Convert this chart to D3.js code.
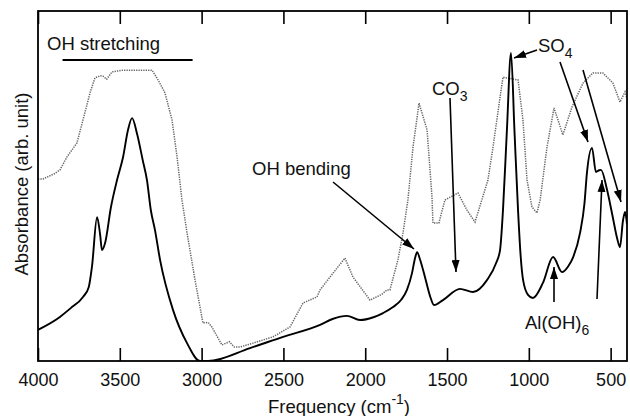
<!DOCTYPE html>
<html>
<head>
    <meta charset="utf-8">
    <style>
        body { margin: 0; background: #fff; }
        svg text { font-family: "Liberation Sans", Arial, sans-serif; fill: #111; }
    </style>
    <script src="https://cdnjs.cloudflare.com/ajax/libs/d3/7.8.5/d3.min.js"></script>
    <title>IR spectrum</title>
</head>
<body>
    <div id="chart"></div>
    <script>
        // solid spectrum (wavenumber, absorbance)
        var solidWn = [4000, 3866, 3800, 3725, 3690, 3670, 3639, 3620, 3609, 3590, 3554, 3517, 3480, 3450, 3425, 3395, 3360, 3334, 3310, 3285, 3254, 3175, 3089, 3010, 2960,
            2704, 2502, 2276, 2200, 2112, 2032, 1950, 1891, 1830, 1780, 1745, 1714, 1695, 1683, 1665, 1635, 1600, 1580, 1525, 1421, 1341, 1256, 1200, 1176,
            1158, 1134, 1109, 1088, 1066, 1050, 1035, 1005, 975, 914, 852, 797, 760, 729, 687, 660, 645, 614, 590, 570, 559, 522, 492, 460, 443, 425, 412, 400];
        var solidAbs = [0.089, 0.126, 0.151, 0.183, 0.211, 0.27, 0.411, 0.36, 0.317, 0.337, 0.44, 0.517, 0.583, 0.66, 0.694, 0.65, 0.574, 0.517, 0.43, 0.374, 0.289, 0.146, 0.051, 0, 0,
            0.037, 0.069, 0.103, 0.12, 0.129, 0.117, 0.125, 0.137, 0.154, 0.175, 0.203, 0.251, 0.295, 0.311, 0.29, 0.24, 0.18, 0.16, 0.174, 0.206, 0.197, 0.231, 0.28, 0.317,
            0.431, 0.66, 0.88, 0.66, 0.431, 0.3, 0.231, 0.189, 0.18, 0.223, 0.297, 0.254, 0.27, 0.297, 0.366, 0.45, 0.537, 0.609, 0.54, 0.545, 0.546, 0.489, 0.423, 0.35, 0.325, 0.4, 0.426, 0.39];

        // dotted spectrum
        var dotWn = [4000, 3970, 3900, 3866, 3823, 3762, 3725, 3682, 3652, 3620, 3603, 3580, 3548, 3480, 3303, 3266, 3224, 3181, 3150, 3120, 3089, 3040, 2992, 2960, 2937, 2876, 2830, 2800, 2765, 2686, 2564, 2460, 2380, 2295,
            2276, 2197, 2124, 2075, 1971, 1900, 1867, 1849, 1800, 1769, 1739, 1708, 1671, 1622, 1592, 1586, 1550, 1513, 1433, 1378, 1329, 1250, 1219, 1176, 1158, 1066, 1036, 1011, 981, 950, 931, 889, 846, 792, 736, 669, 608, 547, 486, 443, 412, 400];
        var dotAbs = [0.52, 0.52, 0.535, 0.546, 0.583, 0.623, 0.689, 0.766, 0.809, 0.815, 0.814, 0.805, 0.826, 0.831, 0.831, 0.803, 0.766, 0.689, 0.583, 0.46, 0.366, 0.231, 0.109, 0.11, 0.097, 0.046, 0.055, 0.04, 0.04, 0.051, 0.069, 0.097, 0.166, 0.183,
            0.203, 0.251, 0.294, 0.24, 0.174, 0.19, 0.203, 0.203, 0.289, 0.366, 0.46, 0.611, 0.737, 0.66, 0.469, 0.394, 0.394, 0.46, 0.48, 0.431, 0.397, 0.517, 0.611, 0.754, 0.811, 0.803, 0.689, 0.517, 0.44, 0.423, 0.46, 0.611, 0.723, 0.646, 0.726, 0.794, 0.823, 0.823, 0.794, 0.74, 0.769, 0.75];

        var xTicks = [4000, 3500, 3000, 2500, 2000, 1500, 1000, 500];

        var margin = { top: 11, right: 3, bottom: 55, left: 38 },
            width = 630 - margin.left - margin.right,
            height = 416 - margin.top - margin.bottom;

        var svg = d3.select("#chart")
            .append("svg")
            .attr("width", 630)
            .attr("height", 416);

        var g = svg.append("g")
            .attr("transform", "translate(" + margin.left + "," + margin.top + ")");

        var x = d3.scaleLinear().domain([4000, 400]).range([0, width]);
        var y = d3.scaleLinear().domain([0, 1]).range([height, 0]);

        // arrow marker
        svg.append("defs").append("marker")
            .attr("id", "arr")
            .attr("viewBox", "0 0 12 8")
            .attr("refX", 12).attr("refY", 4)
            .attr("markerWidth", 12).attr("markerHeight", 8)
            .attr("markerUnits", "userSpaceOnUse")
            .attr("orient", "auto")
            .append("path").attr("d", "M0,0 L12,4 L0,8 Z").style("fill", "#000");

        g.append("clipPath").attr("id", "clip")
            .append("rect").attr("width", width).attr("height", height);

        // curves
        var solid = solidWn.map(function (d, i) { return [d, solidAbs[i]]; });
        var dotted = dotWn.map(function (d, i) { return [d, dotAbs[i]]; });

        var lineSmooth = d3.line().x(function (d) { return x(d[0]); }).y(function (d) { return y(d[1]); }).curve(d3.curveMonotoneX);
        var lineRaw = d3.line().x(function (d) { return x(d[0]); }).y(function (d) { return y(d[1]); });

        g.append("path").datum(dotted)
            .attr("clip-path", "url(#clip)")
            .attr("d", lineRaw)
            .style("fill", "none").style("stroke", "#666")
            .style("stroke-width", 1.5).style("stroke-dasharray", "1.3,1.1");

        g.append("path").datum(solid.slice().reverse())
            .attr("clip-path", "url(#clip)")
            .attr("d", lineSmooth)
            .style("fill", "none").style("stroke", "#000").style("stroke-width", 1.9);

        // axes: frame with inward ticks on top and bottom
        g.append("g").attr("transform", "translate(0," + height + ")")
            .call(d3.axisBottom(x).tickValues(xTicks).tickSizeInner(-13).tickSizeOuter(0).tickPadding(12).tickFormat(d3.format("d")))
            .call(function (a) { a.select(".domain").remove(); });
        g.append("g")
            .call(d3.axisTop(x).tickValues(xTicks).tickSizeInner(-13).tickSizeOuter(0).tickFormat(""))
            .call(function (a) { a.select(".domain").remove(); });
        g.selectAll(".tick line").style("stroke", "#000").style("stroke-width", 1.6);
        g.selectAll(".tick text").style("font-size", "18px").style("fill", "#111")
            .style("font-family", "'Liberation Sans', Arial, sans-serif");

        g.append("rect").attr("width", width).attr("height", height)
            .style("fill", "none").style("stroke", "#000").style("stroke-width", 1.8);

        // axis titles
        var xl = svg.append("text").attr("x", 268).attr("y", 413).style("font-size", "18.5px");
        xl.append("tspan").text("Frequency (cm");
        xl.append("tspan").attr("dy", -9).style("font-size", "14px").text("-1");
        xl.append("tspan").attr("dy", 9).text(")");

        svg.append("text").attr("transform", "translate(28,184) rotate(-90)")
            .attr("text-anchor", "middle").style("font-size", "18.5px").text("Absorbance (arb. unit)");

        // annotations
        var ann = svg.append("g");
        ann.append("text").attr("x", 47).attr("y", 50).style("font-size", "18.5px").text("OH stretching");
        ann.append("line").attr("x1", x(3850) + margin.left).attr("x2", x(3055) + margin.left).attr("y1", 60).attr("y2", 60)
            .style("stroke", "#000").style("stroke-width", 2);

        ann.append("text").attr("x", 252).attr("y", 175).style("font-size", "18.5px").text("OH bending");

        var co = ann.append("text").attr("x", 432).attr("y", 95).style("font-size", "18.5px");
        co.append("tspan").text("CO");
        co.append("tspan").attr("dy", 6).style("font-size", "14px").text("3");

        var so = ann.append("text").attr("x", 538).attr("y", 52).style("font-size", "18.5px");
        so.append("tspan").text("SO");
        so.append("tspan").attr("dy", 6).style("font-size", "14px").text("4");

        var al = ann.append("text").attr("x", 525).attr("y", 329).style("font-size", "18.5px");
        al.append("tspan").text("Al(OH)");
        al.append("tspan").attr("dy", 6).style("font-size", "14px").text("6");

        var arrows = [
            [333, 182, 414, 249],
            [450, 98, 456, 272],
            [537, 50, 514, 58],
            [560, 62, 588, 142],
            [583, 70, 621, 202],
            [554, 302, 554, 267],
            [597, 299, 602, 180]
        ];
        ann.selectAll("line.arrow").data(arrows).enter().append("line")
            .attr("class", "arrow")
            .attr("x1", function (d) { return d[0]; }).attr("y1", function (d) { return d[1]; })
            .attr("x2", function (d) { return d[2]; }).attr("y2", function (d) { return d[3]; })
            .style("stroke", "#000").style("stroke-width", 1.6)
            .attr("marker-end", "url(#arr)");
    </script>
</body>
</html>
